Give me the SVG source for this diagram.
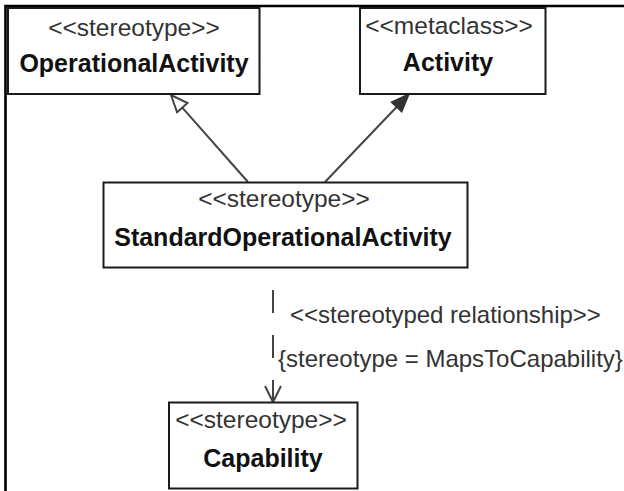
<svg xmlns="http://www.w3.org/2000/svg" width="624" height="491" viewBox="0 0 624 491">
<style>
.box{fill:#fff;stroke:#1a1a1a;stroke-width:2}
.st{font-family:"Liberation Sans",Arial,sans-serif;font-size:24.5px;fill:#333;text-anchor:middle}
.nm{font-family:"Liberation Sans",Arial,sans-serif;font-size:25px;font-weight:bold;fill:#111;text-anchor:middle}
.lb{font-family:"Liberation Sans",Arial,sans-serif;font-size:24px;fill:#333}
.ln{fill:none;stroke:#444;stroke-width:2}
</style>
<rect width="624" height="491" fill="#fff"/>
<g id="frame">
<path d="M5.5,491 V6 H624" fill="none" stroke="#000" stroke-width="2.6"/>
</g>
<g id="connectors">
<path class="ln" d="M248,182 L182.3,107.7"/>
<polygon points="171,95 187.5,103.1 177.1,112.3" fill="#fff" stroke="#444" stroke-width="2"/>
<path class="ln" d="M325,182 L396.6,107"/>
<polygon points="409,94 401.7,111.8 391.5,102.2" fill="#333" stroke="#333" stroke-width="1.5"/>
<path class="ln" d="M273,290 V402" stroke-dasharray="23 22"/>
<path class="ln" d="M265,386 L273,402 L281,386" stroke-width="1.6"/>
<text class="lb" x="290" y="323">&lt;&lt;stereotyped relationship&gt;&gt;</text>
<text class="lb" x="278" y="367">{stereotype = MapsToCapability}</text>
</g>
<g id="OperationalActivity">
<rect class="box" x="8" y="8" width="251.5" height="86"/>
<text class="st" x="134" y="36">&lt;&lt;stereotype&gt;&gt;</text>
<text class="nm" x="134" y="72">OperationalActivity</text>
</g>
<g id="Activity">
<rect class="box" x="360" y="8" width="185.5" height="86"/>
<text class="st" x="449" y="34">&lt;&lt;metaclass&gt;&gt;</text>
<text class="nm" x="448" y="71">Activity</text>
</g>
<g id="StandardOperationalActivity">
<rect class="box" x="103.5" y="182.5" width="364" height="85"/>
<text class="st" x="284" y="207">&lt;&lt;stereotype&gt;&gt;</text>
<text class="nm" x="283" y="246">StandardOperationalActivity</text>
</g>
<g id="Capability">
<rect class="box" x="169" y="402.5" width="188.5" height="86"/>
<text class="st" x="261" y="428">&lt;&lt;stereotype&gt;&gt;</text>
<text class="nm" x="263" y="467">Capability</text>
</g>
</svg>
